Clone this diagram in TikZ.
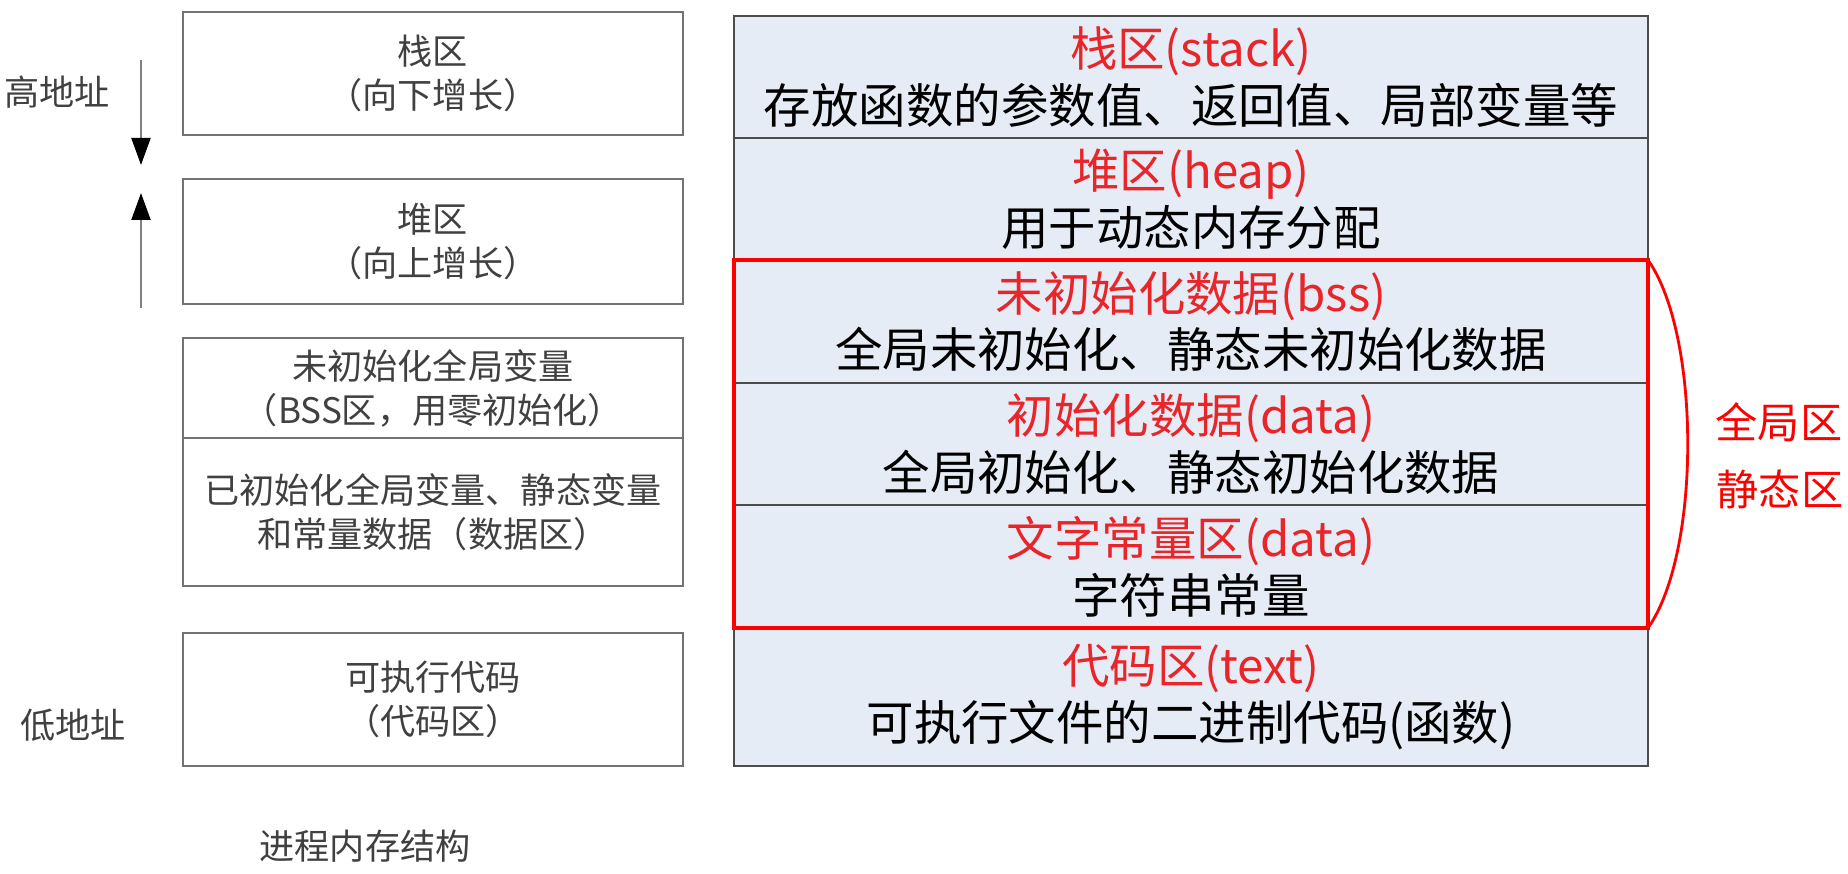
\documentclass[tikz,border=0pt]{standalone}
\usepackage{fontspec}
\setmainfont{Noto Sans CJK SC}
\usetikzlibrary{arrows.meta, positioning}

\definecolor{panel}{HTML}{E6ECF6}
\definecolor{hdrred}{HTML}{E8262A}
\newcommand{\hdr}[1]{\textcolor{hdrred}{#1}}

\begin{document}
\begin{tikzpicture}[
    x=0.1mm, y=-0.1mm,
    >={Triangle[length=2.7mm, width=1.9mm, black]},
    lbox/.style={rectangle, draw=black!55, line width=0.8pt, outer sep=0pt, anchor=north west, minimum width=50mm, inner sep=0pt, align=center, text=black!75, font=\fontsize{10}{12.5}\selectfont},
    rbox/.style={rectangle, draw=black!70, fill=panel, line width=0.8pt, outer sep=0pt, anchor=north west, minimum width=91.4mm, minimum height=12.2mm, inner sep=0pt, align=center, font=\fontsize{13.5}{16.2}\selectfont},
    side/.style={text=black!75, font=\fontsize{10}{12}\selectfont},
    growarrow/.style={->, draw=black!50, line width=0.6pt}
  ]
    \useasboundingbox (0,0) rectangle (1848,874);

    % left: process memory layout
    \node[lbox, minimum height=12.3mm] (lstack) at (183,12) {栈区\\（向下增长）};
    \node[lbox, minimum height=12.5mm, below=4.4mm of lstack.south west, anchor=north west] (lheap) {堆区\\（向上增长）};
    \node[lbox, minimum height=10mm, below=3.4mm of lheap.south west, anchor=north west] (lbss) {未初始化全局变量\\（BSS区，用零初始化）};
    \node[lbox, minimum height=14.8mm, below=0pt of lbss.south west, anchor=north west] (ldata) {已初始化全局变量、静态变量\\和常量数据（数据区）};
    \node[lbox, minimum height=13.3mm, below=4.7mm of ldata.south west, anchor=north west] (lcode) {可执行代码\\（代码区）};

    \node[side] (high) at (57,92) {高地址};
    \node[side] (low) at (73,725) {低地址};
    \node[side] (title) at (365,846) {进程内存结构};

    \coordinate (downS) at (141,60);
    \coordinate (downE) at (141,165);
    \coordinate (upS) at (141,308);
    \coordinate (upE) at (141,193);
    \draw[growarrow] (downS) -- (downE);
    \draw[growarrow] (upS) -- (upE);

    % right: segments
    \node[rbox] (rstack) at (734,16) {\hdr{栈区(stack)}\\存放函数的参数值、返回值、局部变量等};
    \node[rbox, below=0pt of rstack] (rheap) {\hdr{堆区(heap)}\\用于动态内存分配};
    \node[rbox, minimum height=12.3mm, below=0pt of rheap] (rbss) {\hdr{未初始化数据(bss)}\\全局未初始化、静态未初始化数据};
    \node[rbox, below=0pt of rbss] (rdata) {\hdr{初始化数据(data)}\\全局初始化、静态初始化数据};
    \node[rbox, minimum height=12.3mm, below=0pt of rdata] (rlit) {\hdr{文字常量区(data)}\\字符串常量};
    \node[rbox, minimum height=13.8mm, below=0pt of rlit] (rtext) {\hdr{代码区(text)}\\可执行文件的二进制代码(函数)};

    \draw[red, line width=1.1pt] (rbss.north west) rectangle (rlit.south east);
    \draw[red, line width=0.8pt] (rbss.north east) .. controls +(53,75) and +(53,-75) .. (rlit.south east);

    \node[text=red, font=\fontsize{12}{14}\selectfont] (glob) at (1779,422) {全局区};
    \node[text=red, font=\fontsize{12}{14}\selectfont] (stat) at (1780,489) {静态区};
  \end{tikzpicture}
\end{document}
